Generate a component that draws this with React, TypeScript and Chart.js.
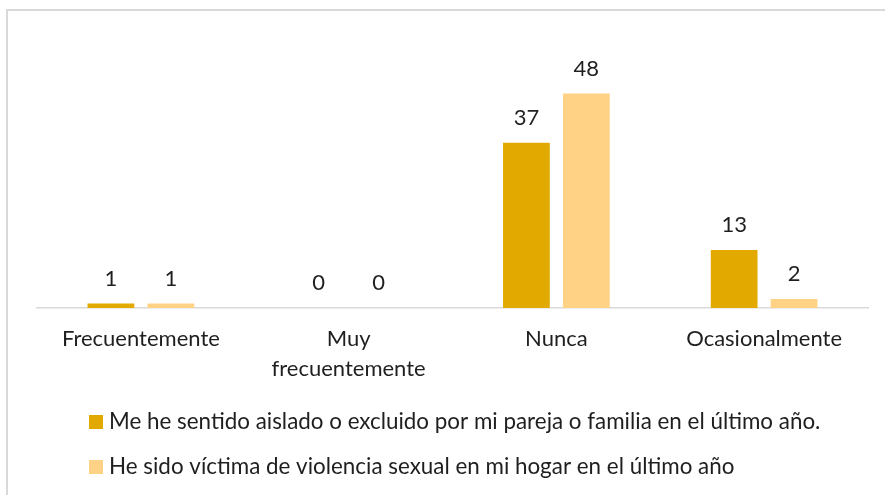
import React, { useEffect, useRef } from "react";
import { Chart, registerables } from "chart.js";

Chart.register(...registerables);

const categories: (string | string[])[] = [
  "Frecuentemente",
  ["Muy", "frecuentemente"],
  "Nunca",
  "Ocasionalmente",
];
const seriesAislado = [1, 0, 37, 13];
const seriesViolencia = [1, 0, 48, 2];
const seriesLabels = [
  "Me he sentido aislado o excluido por mi pareja o familia en el último año.",
  "He sido víctima de violencia sexual en mi hogar en el último año",
];
const seriesColors = ["#E2AA00", "#FFD285"];

const FONT = "Lato";
const FONT_SIZE = 22;
const LEGEND_FONT_SIZE = 22.4;
const TEXT_COLOR = "#1f1f1f";

const valueLabelPlugin = {
  id: "valueLabels",
  afterDatasetsDraw(chart: any) {
    const ctx = chart.ctx;
    ctx.save();
    ctx.font = `${FONT_SIZE}px ${FONT}`;
    ctx.fillStyle = TEXT_COLOR;
    ctx.textAlign = "center";
    ctx.textBaseline = "middle";
    chart.data.datasets.forEach((ds: any, i: number) => {
      const meta = chart.getDatasetMeta(i);
      meta.data.forEach((bar: any, j: number) => {
        ctx.fillText(String(ds.data[j]), bar.x, bar.y - 25);
      });
    });
    ctx.restore();
  },
};

const customLegendPlugin = {
  id: "customLegend",
  afterDraw(chart: any) {
    const ctx = chart.ctx;
    ctx.save();
    ctx.font = `${LEGEND_FONT_SIZE}px ${FONT}`;
    ctx.textBaseline = "middle";
    ctx.textAlign = "left";
    chart.data.datasets.forEach((ds: any, i: number) => {
      const y = 422 + i * 45;
      ctx.fillStyle = ds.backgroundColor;
      ctx.fillRect(89, y - 7, 14, 14);
      ctx.fillStyle = TEXT_COLOR;
      ctx.fillText(ds.label, 109, y);
    });
    ctx.restore();
  },
};

export default function App() {
  const canvasRef = useRef<HTMLCanvasElement | null>(null);

  useEffect(() => {
    document.body.style.margin = "0";
    const canvas = canvasRef.current;
    if (!canvas) return;
    const chart = new Chart(canvas, {
      type: "bar",
      data: {
        labels: categories,
        datasets: [
          {
            label: seriesLabels[0],
            data: seriesAislado,
            backgroundColor: seriesColors[0],
            categoryPercentage: 0.577,
            barPercentage: 0.78,
          },
          {
            label: seriesLabels[1],
            data: seriesViolencia,
            backgroundColor: seriesColors[1],
            categoryPercentage: 0.577,
            barPercentage: 0.78,
          },
        ],
      },
      options: {
        animation: false,
        responsive: false,
        maintainAspectRatio: false,
        layout: { padding: { left: 37, right: 17, top: 40, bottom: 103 } },
        plugins: {
          legend: { display: false },
          tooltip: { enabled: false },
        },
        scales: {
          x: {
            grid: { display: false },
            border: { display: true, color: "#D9D9D9", width: 1.5 },
            ticks: {
              color: TEXT_COLOR,
              font: { family: FONT, size: FONT_SIZE, lineHeight: 30 / FONT_SIZE },
              padding: 8,
              maxRotation: 0,
              autoSkip: false,
            },
          },
          y: {
            display: false,
            min: 0,
            max: 60,
          },
        },
      },
      plugins: [valueLabelPlugin, customLegendPlugin],
    });
    return () => chart.destroy();
  }, []);

  return (
    <div style={{ position: "relative", width: 885, height: 495, overflow: "hidden", background: "#fff" }}>
      <canvas ref={canvasRef} width={885} height={495} style={{ display: "block" }} />
      <div
        style={{
          position: "absolute",
          left: 6,
          top: 9,
          width: 1000,
          height: 1000,
          border: "2px solid #D9D9D9",
          pointerEvents: "none",
        }}
      />
    </div>
  );
}
